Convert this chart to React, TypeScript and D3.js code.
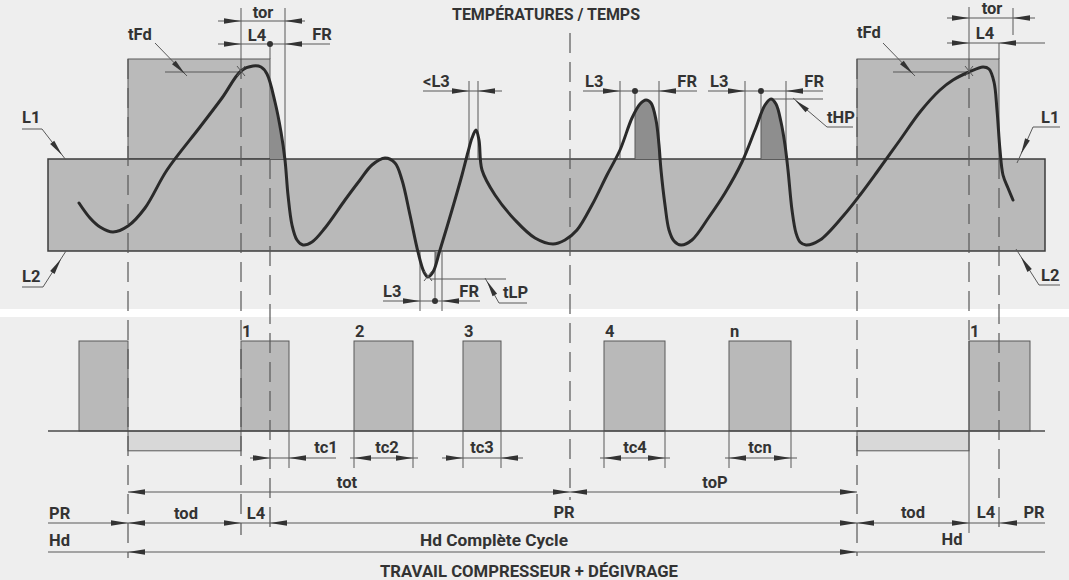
import * as d3 from 'd3';

// time axis in arbitrary units (0 = left end of the band), temperature in arbitrary units (L2 = 0)
const L1 = 92;
const L2 = 0;
const defrostTop = 192;
const bandEnd = 997;

// temperature curve: [time, temperature]
const tempCurve: [number, number][] = [
  [31, 48], [42, 33], [52, 24], [65, 19], [80, 25], [97, 43], [119, 81], [152, 124], [174, 153],
  [193, 180], [205, 185], [213, 184], [219, 177], [227, 149], [233, 119], [237, 91], [240, 56],
  [244, 26], [249, 11], [255, 6], [264, 9], [277, 23], [297, 51], [312, 71], [324, 86], [337, 93],
  [347, 88], [354, 71], [362, 36], [370, -1], [376, -21], [380, -26], [385, -21], [392, 1],
  [404, 41], [414, 76], [420, 99], [424, 113], [428, 121], [431, 111], [434, 81], [447, 56],
  [467, 31], [487, 13], [505, 7], [517, 11], [529, 21], [544, 46], [559, 76], [572, 101],
  [584, 133], [592, 147], [598, 151], [603, 148], [608, 131], [611, 106], [613, 81], [617, 46],
  [621, 21], [626, 10], [633, 6], [644, 11], [661, 34], [677, 58], [694, 89], [707, 121],
  [717, 146], [723, 152], [728, 147], [733, 129], [737, 106], [740, 81], [744, 41], [748, 18],
  [752, 9], [758, 6], [772, 11], [796, 36], [812, 56], [829, 79], [852, 111], [872, 139],
  [892, 161], [905, 171], [921, 179], [935, 184], [941, 182], [946, 169], [949, 141], [952, 101],
  [955, 76], [960, 63], [965, 51],
];

// defrost periods (upper: with drip time L4, lower: defrost output)
const defrostUpper = [[80, 222], [809, 951]];
const defrostLower = [[80, 193], [809, 921]];
// compressor on periods
const compressorOn = [[31, 80], [193, 241], [306, 365], [415, 453], [556, 617], [681, 743], [921, 982]];
const compressorLabels = ['', '1', '2', '3', '4', 'n', '1'];

// dashed time markers
const dashedMarks = [
  { t: 80, y1: 59, y2: 558 },
  { t: 193, y1: 59, y2: 535 },
  { t: 222, y1: 159, y2: 535 },
  { t: 522, y1: 33, y2: 500 },
  { t: 809, y1: 59, y2: 556 },
  { t: 921, y1: 59, y2: 341 },
  { t: 951, y1: 159, y2: 533 },
];

const x = d3.scaleLinear().domain([0, 1000]).range([48, 1048]);
const y = d3.scaleLinear().domain([0, 250]).range([251, 1]);
const yc = d3.scaleLinear().domain([0, 1]).range([431, 341]);

const INK = '#333';
const LINE = '#585858';
const FONT = "Roboto, 'Liberation Sans', sans-serif";

const head = (tx: number, ty: number, ang: number, len = 17, w = 2.8) => {
  const c = Math.cos(ang), s = Math.sin(ang);
  const bx = tx - len * c, by = ty - len * s;
  return `${tx},${ty} ${bx - w * s},${by + w * c} ${bx + w * s},${by - w * c}`;
};

const R = 0, Lf = Math.PI;

function Dim({ yy, from, to, heads, dot }: { yy: number; from: number; to: number; heads: [number, number][]; dot?: number }) {
  return (
    <g>
      <line x1={x(from)} x2={x(to)} y1={yy} y2={yy} stroke={LINE} strokeWidth={1} />
      {heads.map(([t, a], i) => (
        <polygon key={i} points={head(x(t), yy, a)} fill="#333" />
      ))}
      {dot !== undefined && <circle cx={x(dot)} cy={yy} r={3} fill="#333" />}
    </g>
  );
}

function Label({ t, yy, text, anchor = 'start', size = 16.5, len }: { t: number; yy: number; text: string; anchor?: string; size?: number; len?: number }) {
  return (
    <text x={x(t)} y={yy} textAnchor={anchor} fill={INK} fontFamily={FONT} fontWeight={700} fontSize={size}
      textLength={len} lengthAdjust={len ? 'spacingAndGlyphs' : undefined}>
      {text}
    </text>
  );
}

function Leader({ pts, tip }: { pts: [number, number][]; tip: [number, number] }) {
  const p = pts.map(([t, yy]) => [x(t), yy]);
  const last = p[p.length - 1];
  const prev = p[p.length - 2];
  const ang = Math.atan2(last[1] - prev[1], last[0] - prev[0]);
  return (
    <g>
      <polyline points={p.map((d) => d.join(',')).join(' ')} fill="none" stroke={LINE} strokeWidth={1} />
      <polygon points={head(x(tip[0]), tip[1], ang, 16, 2.6)} fill="#333" />
    </g>
  );
}

function Cross({ t, yy }: { t: number; yy: number }) {
  const cx = x(t);
  return (
    <g stroke={LINE} strokeWidth={1}>
      <line x1={cx - 4} y1={yy - 5} x2={cx + 4} y2={yy + 5} />
      <line x1={cx - 4} y1={yy + 5} x2={cx + 4} y2={yy - 5} />
    </g>
  );
}

export default function App() {
  const curveLine = d3.line<[number, number]>()
    .x((d) => x(d[0]))
    .y((d) => y(d[1]))
    .curve(d3.curveCatmullRom.alpha(0.5));
  const aboveL1 = d3.area<[number, number]>()
    .x((d) => x(d[0]))
    .y0(y(L1))
    .y1((d) => y(d[1]))
    .curve(d3.curveCatmullRom.alpha(0.5));
  const belowL2 = d3.area<[number, number]>()
    .x((d) => x(d[0]))
    .y0(y(L2))
    .y1((d) => y(d[1]))
    .curve(d3.curveCatmullRom.alpha(0.5));

  const shades = [
    { id: 'sA', t0: 222, t1: 252, upper: true },
    { id: 'sB', t0: 587, t1: 625, upper: true },
    { id: 'sC', t0: 713, t1: 752, upper: true },
    { id: 'sD', t0: 387, t1: 400, upper: false },
  ];

  return (
    <div style={{ position: 'absolute', left: 0, top: 0 }}>
      <svg width={1069} height={580} style={{ display: 'block' }}>
        <defs>
          {shades.map((s) => (
            <clipPath id={s.id} key={s.id}>
              <rect x={x(s.t0)} width={x(s.t1) - x(s.t0)}
                y={s.upper ? 0 : y(L2)} height={s.upper ? y(L1) : 100} />
            </clipPath>
          ))}
        </defs>
        <rect width={1069} height={580} fill="#eeeeee" />
        <rect y={309} width={1069} height={8} fill="#ffffff" />

        {/* upper defrost windows */}
        {defrostUpper.map(([a, b], i) => (
          <rect key={i} x={x(a)} y={y(defrostTop)} width={x(b) - x(a)} height={y(L1) - y(defrostTop)}
            fill="#bababa" stroke={LINE} strokeWidth={1} />
        ))}
        {/* L1 - L2 band */}
        <rect x={x(0)} y={y(L1)} width={x(bandEnd) - x(0)} height={y(L2) - y(L1)}
          fill="#b9b9b9" stroke="#3c3c3c" strokeWidth={1.5} />

        {/* shaded zones under the curve */}
        {shades.map((s) => (
          <path key={s.id} d={(s.upper ? aboveL1 : belowL2)(tempCurve) || ''} fill="#8e8e8e" clipPath={`url(#${s.id})`} />
        ))}

        {/* compressor output */}
        {defrostLower.map(([a, b], i) => (
          <rect key={i} x={x(a)} y={yc(0)} width={x(b) - x(a)} height={yc(-0.22) - yc(0)}
            fill="#d8d8d8" stroke={LINE} strokeWidth={1} />
        ))}
        {compressorOn.map(([a, b], i) => (
          <rect key={i} x={x(a)} y={yc(1)} width={x(b) - x(a)} height={yc(0) - yc(1)}
            fill="#b9b9b9" stroke={LINE} strokeWidth={1} />
        ))}
        {compressorOn.map(([a], i) => compressorLabels[i] && (
          <Label key={i} t={a + 1} yy={337} text={compressorLabels[i]} />
        ))}
        <line x1={x(0)} x2={x(bandEnd)} y1={yc(0)} y2={yc(0)} stroke="#4a4a4a" strokeWidth={1.5} />

        {/* dashed markers */}
        {dashedMarks.map((m, i) => (
          <line key={i} x1={x(m.t)} x2={x(m.t)} y1={m.y1} y2={m.y2} stroke={LINE} strokeWidth={1.2} strokeDasharray="20,9" />
        ))}

        {/* solid extension lines */}
        <g stroke={LINE} strokeWidth={1}>
          <line x1={x(193)} x2={x(193)} y1={8} y2={59} />
          <line x1={x(237)} x2={x(237)} y1={8} y2={159} />
          <line x1={x(222)} x2={x(222)} y1={44} y2={59} />
          <line x1={x(921)} x2={x(921)} y1={7} y2={59} />
          <line x1={x(965)} x2={x(965)} y1={8} y2={35} />
          <line x1={x(951)} x2={x(951)} y1={43} y2={59} />
          <line x1={x(921)} x2={x(921)} y1={341} y2={533} />
          {[421, 430, 572, 611, 697, 738].map((t) => (
            <line key={t} x1={x(t)} x2={x(t)} y1={81} y2={159} />
          ))}
          {[587, 713].map((t) => (
            <line key={t} x1={x(t)} x2={x(t)} y1={91} y2={159} />
          ))}
          {[372, 394].map((t) => (
            <line key={t} x1={x(t)} x2={x(t)} y1={251} y2={311} />
          ))}
          <line x1={x(387)} x2={x(387)} y1={251} y2={301} />
          {[241, 306, 365, 415, 453, 556, 617, 681, 743].map((t) => (
            <line key={t} x1={x(t)} x2={x(t)} y1={431} y2={468} />
          ))}
          <line x1={x(723)} x2={x(775)} y1={99} y2={99} />
          <line x1={x(382)} x2={x(458)} y1={279} y2={279} />
          <line x1={x(117)} x2={x(194)} y1={72} y2={72} />
          <line x1={x(845)} x2={x(922)} y1={72} y2={72} />
        </g>

        {/* temperature curve */}
        <path d={curveLine(tempCurve) || ''} fill="none" stroke="#2a2a2a" strokeWidth={3} strokeLinecap="round" />
        <Cross t={193} yy={71} />
        <Cross t={921} yy={71} />
        <Cross t={380} yy={276} />

        {/* dimension lines, upper part */}
        <Dim yy={21} from={170} to={257} heads={[[193, R], [237, Lf]]} />
        <Dim yy={44} from={170} to={282} heads={[[193, R], [237, Lf]]} dot={222} />
        <Dim yy={18} from={899} to={987} heads={[[921, R], [965, Lf]]} />
        <Dim yy={43} from={899} to={997} heads={[[921, R], [951, Lf]]} />
        <Dim yy={91} from={375} to={454} heads={[[421, R], [430, Lf]]} />
        <Dim yy={91} from={535} to={649} heads={[[572, R], [611, Lf]]} dot={587} />
        <Dim yy={91} from={660} to={775} heads={[[697, R], [738, Lf]]} dot={713} />
        <Dim yy={301} from={335} to={432} heads={[[372, R], [394, Lf]]} dot={387} />

        {/* dimension lines, lower part */}
        <Dim yy={458} from={202} to={288} heads={[[222, R], [241, Lf]]} />
        <Dim yy={458} from={302} to={370} heads={[[306, Lf], [365, R]]} />
        <Dim yy={458} from={394} to={475} heads={[[415, R], [453, Lf]]} />
        <Dim yy={458} from={552} to={622} heads={[[556, Lf], [617, R]]} />
        <Dim yy={458} from={677} to={749} heads={[[681, Lf], [743, R]]} />
        <Dim yy={492} from={80} to={809} heads={[[80, Lf], [522, R], [522, Lf], [809, R]]} />
        <Dim yy={523} from={0} to={bandEnd} heads={[[80, R], [80, Lf], [193, R], [222, Lf], [809, R], [809, Lf], [921, R], [952, Lf]]} />
        <Dim yy={552} from={0} to={bandEnd} heads={[[80, Lf], [809, R]]} />

        {/* leaders */}
        <Leader pts={[[107, 43], [139, 76]]} tip={[137, 74]} />
        <Leader pts={[[835, 43], [867, 76]]} tip={[865, 74]} />
        <Leader pts={[[-26, 129], [-6, 129], [18, 160]]} tip={[14, 155]} />
        <Leader pts={[[-26, 287], [-5, 287], [18, 251]]} tip={[13, 259]} />
        <Leader pts={[[1012, 127], [985, 127], [969, 163]]} tip={[973, 154]} />
        <Leader pts={[[1012, 285], [991, 285], [968, 249]]} tip={[973, 257]} />
        <Leader pts={[[805, 127], [779, 127], [745, 98]]} tip={[747, 100]} />
        <Leader pts={[[479, 303], [451, 303], [437, 278]]} tip={[439, 281]} />

        {/* labels */}
        <Label t={404} yy={20} text="TEMPÉRATURES / TEMPS" len={188} />
        <Label t={215} yy={18} text="tor" anchor="middle" />
        <Label t={209} yy={41} text="L4" anchor="middle" />
        <Label t={274} yy={40} text="FR" anchor="middle" />
        <Label t={80} yy={40} text="tFd" />
        <Label t={944} yy={14} text="tor" anchor="middle" />
        <Label t={937} yy={39} text="L4" anchor="middle" />
        <Label t={809} yy={38} text="tFd" />
        <Label t={-26} yy={123} text="L1" />
        <Label t={-26} yy={282} text="L2" />
        <Label t={993} yy={123} text="L1" />
        <Label t={993} yy={281} text="L2" />
        <Label t={375} yy={87} text="<L3" />
        <Label t={537} yy={87} text="L3" />
        <Label t={649} yy={87} text="FR" anchor="end" />
        <Label t={662} yy={87} text="L3" />
        <Label t={776} yy={87} text="FR" anchor="end" />
        <Label t={779} yy={123} text="tHP" />
        <Label t={335} yy={297} text="L3" />
        <Label t={431} yy={297} text="FR" anchor="end" />
        <Label t={455} yy={298} text="tLP" />
        <Label t={278} yy={453} text="tc1" anchor="middle" />
        <Label t={339} yy={453} text="tc2" anchor="middle" />
        <Label t={434} yy={453} text="tc3" anchor="middle" />
        <Label t={587} yy={453} text="tc4" anchor="middle" />
        <Label t={712} yy={453} text="tcn" anchor="middle" />
        <Label t={299} yy={488} text="tot" anchor="middle" />
        <Label t={667} yy={488} text="toP" anchor="middle" />
        <Label t={1} yy={519} text="PR" />
        <Label t={138} yy={519} text="tod" anchor="middle" />
        <Label t={208} yy={519} text="L4" anchor="middle" />
        <Label t={516} yy={518} text="PR" anchor="middle" />
        <Label t={865} yy={518} text="tod" anchor="middle" />
        <Label t={938} yy={518} text="L4" anchor="middle" />
        <Label t={986} yy={518} text="PR" anchor="middle" />
        <Label t={1} yy={546} text="Hd" />
        <Label t={372} yy={546} text="Hd Complète Cycle" len={148} />
        <Label t={904} yy={545} text="Hd" anchor="middle" />
        <Label t={332} yy={577} text="TRAVAIL COMPRESSEUR + DÉGIVRAGE" len={298} />
      </svg>
    </div>
  );
}
